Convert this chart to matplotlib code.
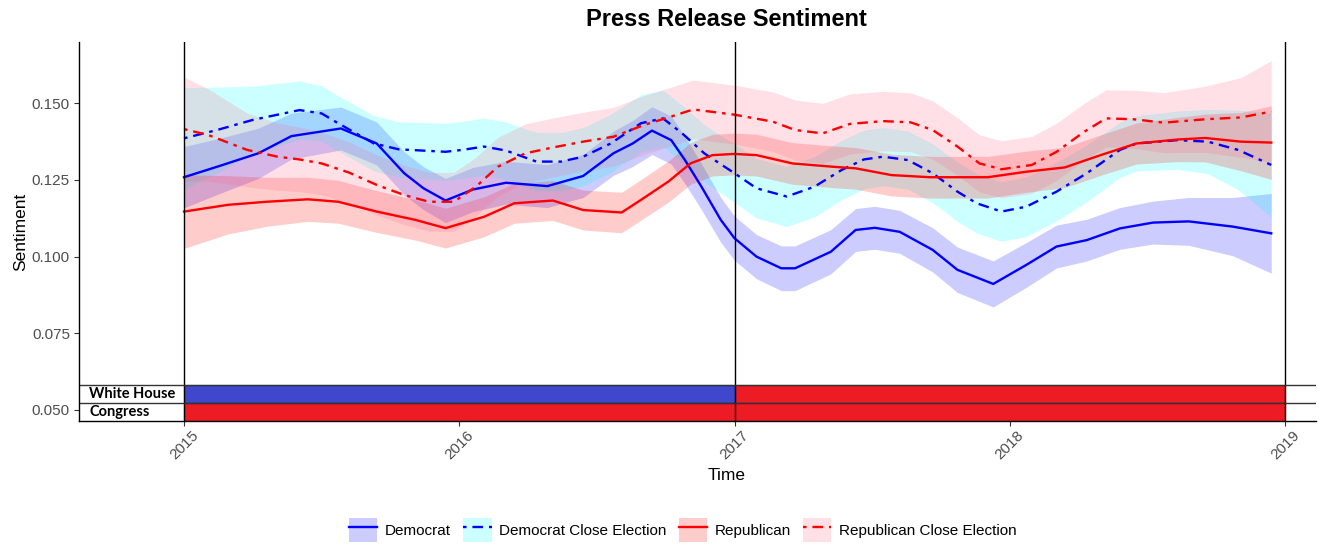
import matplotlib
matplotlib.use("Agg")
import matplotlib.pyplot as plt
from matplotlib.patches import Patch
from matplotlib.lines import Line2D
import numpy as np

# ---------------- data ----------------
dem_t = [2015.00, 2015.13, 2015.27, 2015.39, 2015.57, 2015.70, 2015.80, 2015.87, 2015.95, 2016.05,
         2016.17, 2016.32, 2016.45, 2016.56, 2016.63, 2016.70, 2016.77, 2016.82, 2016.88, 2016.95,
         2017.00, 2017.08, 2017.17, 2017.22, 2017.35, 2017.44, 2017.51, 2017.60, 2017.72, 2017.81,
         2017.94, 2018.06, 2018.17, 2018.28, 2018.40, 2018.52, 2018.65, 2018.81, 2018.95]
dem_v = [0.1259, 0.1296, 0.1337, 0.1393, 0.1418, 0.1369, 0.1272, 0.1223, 0.1183, 0.1219,
         0.1241, 0.1230, 0.1263, 0.1337, 0.1369, 0.1411, 0.1380, 0.1315, 0.1228, 0.1120,
         0.1060, 0.1000, 0.0962, 0.0962, 0.1016, 0.1087, 0.1094, 0.1081, 0.1022, 0.0957,
         0.0911, 0.0973, 0.1033, 0.1054, 0.1092, 0.1111, 0.1115, 0.1098, 0.1076]
dem_hw = [0.0100, 0.0090, 0.0082, 0.0075, 0.0070, 0.0070, 0.0070, 0.0070, 0.0072, 0.0072,
          0.0070, 0.0070, 0.0070, 0.0072, 0.0075, 0.0078, 0.0078, 0.0077, 0.0075, 0.0073,
          0.0072, 0.0072, 0.0073, 0.0073, 0.0072, 0.0070, 0.0070, 0.0070, 0.0072, 0.0074,
          0.0075, 0.0073, 0.0070, 0.0068, 0.0068, 0.0070, 0.0078, 0.0095, 0.0130]

demc_t = [2015.00, 2015.12, 2015.25, 2015.42, 2015.50, 2015.56, 2015.69, 2015.78, 2015.95, 2016.01,
          2016.09, 2016.17, 2016.28, 2016.37, 2016.45, 2016.55, 2016.66, 2016.74, 2016.81, 2016.89,
          2017.00, 2017.08, 2017.19, 2017.29, 2017.39, 2017.47, 2017.54, 2017.63, 2017.72, 2017.81,
          2017.88, 2017.97, 2018.06, 2018.17, 2018.28, 2018.40, 2018.46, 2018.61, 2018.72, 2018.83,
          2018.95]
demc_v = [0.1386, 0.1413, 0.1446, 0.1478, 0.1467, 0.1435, 0.1369, 0.1350, 0.1342, 0.1348,
          0.1359, 0.1346, 0.1310, 0.1310, 0.1326, 0.1369, 0.1435, 0.1451, 0.1402, 0.1337,
          0.1272, 0.1223, 0.1196, 0.1228, 0.1283, 0.1317, 0.1326, 0.1315, 0.1272, 0.1212,
          0.1174, 0.1147, 0.1163, 0.1212, 0.1272, 0.1348, 0.1369, 0.1380, 0.1375, 0.1348,
          0.1299]
demc_hw = [0.0165, 0.0140, 0.0110, 0.0095, 0.0090, 0.0090, 0.0090, 0.0090, 0.0093, 0.0093,
           0.0093, 0.0093, 0.0095, 0.0095, 0.0095, 0.0095, 0.0093, 0.0092, 0.0092, 0.0093,
           0.0095, 0.0097, 0.0098, 0.0098, 0.0097, 0.0096, 0.0095, 0.0095, 0.0096, 0.0097,
           0.0097, 0.0097, 0.0097, 0.0095, 0.0093, 0.0090, 0.0090, 0.0095, 0.0105, 0.0130,
           0.0170]

rep_t = [2015.00, 2015.16, 2015.30, 2015.45, 2015.56, 2015.70, 2015.84, 2015.95, 2016.09, 2016.20,
         2016.34, 2016.45, 2016.59, 2016.66, 2016.76, 2016.84, 2016.92, 2017.00, 2017.08, 2017.21,
         2017.36, 2017.44, 2017.57, 2017.71, 2017.92, 2018.06, 2018.20, 2018.33, 2018.46, 2018.61,
         2018.71, 2018.84, 2018.95]
rep_v = [0.1147, 0.1169, 0.1179, 0.1187, 0.1179, 0.1147, 0.1120, 0.1093, 0.1130, 0.1174,
         0.1183, 0.1152, 0.1144, 0.1185, 0.1245, 0.1304, 0.1331, 0.1335, 0.1331, 0.1304,
         0.1293, 0.1288, 0.1266, 0.1259, 0.1259, 0.1277, 0.1291, 0.1331, 0.1369, 0.1382,
         0.1387, 0.1375, 0.1372]
rep_hw = [0.0120, 0.0095, 0.0080, 0.0072, 0.0070, 0.0068, 0.0066, 0.0065, 0.0065, 0.0065,
          0.0065, 0.0065, 0.0066, 0.0066, 0.0067, 0.0068, 0.0068, 0.0068, 0.0068, 0.0068,
          0.0068, 0.0068, 0.0068, 0.0068, 0.0068, 0.0067, 0.0066, 0.0066, 0.0067, 0.0072,
          0.0078, 0.0095, 0.0120]

repc_t = [2015.00, 2015.09, 2015.23, 2015.34, 2015.42, 2015.50, 2015.60, 2015.70, 2015.80, 2015.89,
          2015.98, 2016.06, 2016.14, 2016.24, 2016.34, 2016.45, 2016.56, 2016.67, 2016.76, 2016.85,
          2017.00, 2017.14, 2017.22, 2017.32, 2017.42, 2017.54, 2017.64, 2017.72, 2017.81, 2017.89,
          2017.97, 2018.08, 2018.17, 2018.27, 2018.35, 2018.45, 2018.56, 2018.71, 2018.84, 2018.95]
repc_v = [0.1416, 0.1396, 0.1348, 0.1326, 0.1317, 0.1304, 0.1274, 0.1234, 0.1201, 0.1179,
          0.1179, 0.1228, 0.1293, 0.1337, 0.1356, 0.1375, 0.1391, 0.1429, 0.1454, 0.1480,
          0.1463, 0.1440, 0.1413, 0.1402, 0.1433, 0.1442, 0.1438, 0.1413, 0.1359, 0.1304,
          0.1285, 0.1299, 0.1342, 0.1407, 0.1451, 0.1448, 0.1437, 0.1448, 0.1454, 0.1473]
repc_hw = [0.0170, 0.0150, 0.0120, 0.0110, 0.0105, 0.0102, 0.0100, 0.0098, 0.0097, 0.0096,
           0.0096, 0.0096, 0.0096, 0.0096, 0.0096, 0.0096, 0.0096, 0.0096, 0.0096, 0.0096,
           0.0096, 0.0097, 0.0098, 0.0098, 0.0098, 0.0097, 0.0096, 0.0095, 0.0094, 0.0093,
           0.0093, 0.0093, 0.0093, 0.0093, 0.0093, 0.0095, 0.0098, 0.0108, 0.0130, 0.0166]

series_names = ["Democrat", "Democrat Close Election", "Republican", "Republican Close Election"]

# control bars: (start, end) per party period
wh_periods = [(2015, 2017), (2017, 2019)]
wh_party = ["D", "R"]
cong_periods = [(2015, 2019)]
cong_party = ["R"]
row_labels = ["White House", "Congress"]

x_ticks = [2015, 2016, 2017, 2018, 2019]
y_ticks = [0.050, 0.075, 0.100, 0.125, 0.150]

# ---------------- style ----------------
plt.rcParams['font.family'] = ['Liberation Sans', 'DejaVu Sans']
line_colors = ["#0000FF", "#0000FF", "#FF0000", "#FF0000"]
fill_colors = ["#0000FF", "#00FFFF", "#FF0000", "#FF6688"]
fill_alpha = 0.2
dashdot = (0, (1.5, 2.5, 4.5, 2.5))
styles = ["-", dashdot, "-", dashdot]
party_colors = {"D": "#3F48CC", "R": "#ED1C24"}
LW = 1.7

W, H = 1319, 544
fig = plt.figure(figsize=(W / 100, H / 100), dpi=100)
L, R, T, B = 79, 1316, 42, 421
ax = fig.add_axes([L / W, 1 - B / H, (R - L) / W, (B - T) / H])

data = [(dem_t, dem_v, dem_hw), (demc_t, demc_v, demc_hw),
        (rep_t, rep_v, rep_hw), (repc_t, repc_v, repc_hw)]

for (t, v, hw), lc, fc, ls in zip(data, line_colors, fill_colors, styles):
    t = np.array(t); v = np.array(v); hw = np.array(hw)
    ax.fill_between(t, v - hw, v + hw, color=fc, alpha=fill_alpha, lw=0, zorder=2)
    ax.plot(t, v, color=lc, ls=ls, lw=LW, zorder=3, solid_joinstyle="round")

xlim = (2014.6185, 2019.1126)
ylim = (0.0464, 0.1700)
ax.set_xlim(*xlim)
ax.set_ylim(*ylim)

row_top = 0.05815
row_mid = 0.05230
row_bot = ylim[0]

# vertical reference lines
for xv in [2015, 2017, 2019]:
    ax.axvline(xv, color="black", lw=1.0, zorder=6)

# control bars
for (s, e), p in zip(wh_periods, wh_party):
    ax.barh((row_top + row_mid) / 2, e - s, left=s, height=row_top - row_mid,
            color=party_colors[p], edgecolor="black", lw=0.8, zorder=5)
for (s, e), p in zip(cong_periods, cong_party):
    ax.barh((row_mid + row_bot) / 2, e - s, left=s, height=row_mid - row_bot,
            color=party_colors[p], edgecolor="black", lw=0.8, zorder=5)
ax.axhline(row_top, color="#333333", lw=1.0, zorder=6)
ax.axhline(row_mid, color="#333333", lw=1.0, zorder=6)

ax.text(2014.655, (row_top + row_mid) / 2, row_labels[0], fontsize=10.5,
        fontweight="bold", family=["Lato", "DejaVu Sans"], ha="left", va="center", zorder=7)
ax.text(2014.655, (row_mid + row_bot) / 2, row_labels[1], fontsize=10.5,
        fontweight="bold", family=["Lato", "DejaVu Sans"], ha="left", va="center", zorder=7)

# axes styling
for s in ["top", "right"]:
    ax.spines[s].set_visible(False)
for s in ["left", "bottom"]:
    ax.spines[s].set_color("black")
    ax.spines[s].set_linewidth(1.0)
    ax.spines[s].set_zorder(8)

ax.set_xticks(x_ticks)
ax.set_xticklabels([str(x) for x in x_ticks], rotation=45, ha="center", va="top")
ax.set_yticks(y_ticks)
ax.set_yticklabels([f"{y:.3f}" for y in y_ticks])
ax.tick_params(axis="both", colors="#333333", labelcolor="#4D4D4D", labelsize=11,
               length=3.5, width=0.8)
ax.tick_params(axis="x", pad=2)
ax.tick_params(axis="y", pad=3)

ax.set_xlabel("Time", fontsize=12.5, color="black")
ax.xaxis.set_label_coords((727 - L) / (R - L), (B - 468) / (B - T))
ax.set_ylabel("Sentiment", fontsize=12.5, color="black")
ax.yaxis.set_label_coords((28 - L) / (R - L), 0.5)

fig.text(726 / W, 1 - 20 / H, "Press Release Sentiment", fontsize=17,
         fontweight="bold", ha="center", va="center")

# legend
handles = []
for lc, fc, ls in zip(line_colors, fill_colors, styles):
    handles.append((Patch(facecolor=fc, alpha=fill_alpha, edgecolor="none"),
                    Line2D([], [], color=lc, ls=ls, lw=LW)))
fig.legend(handles, series_names, loc="center", bbox_to_anchor=(683 / W, 1 - 530 / H),
           ncol=4, frameon=False, fontsize=11, handlelength=1.85, handleheight=2.0,
           handletextpad=0.5, columnspacing=0.8, borderpad=0, borderaxespad=0)

fig.savefig("out.png", dpi=100)
